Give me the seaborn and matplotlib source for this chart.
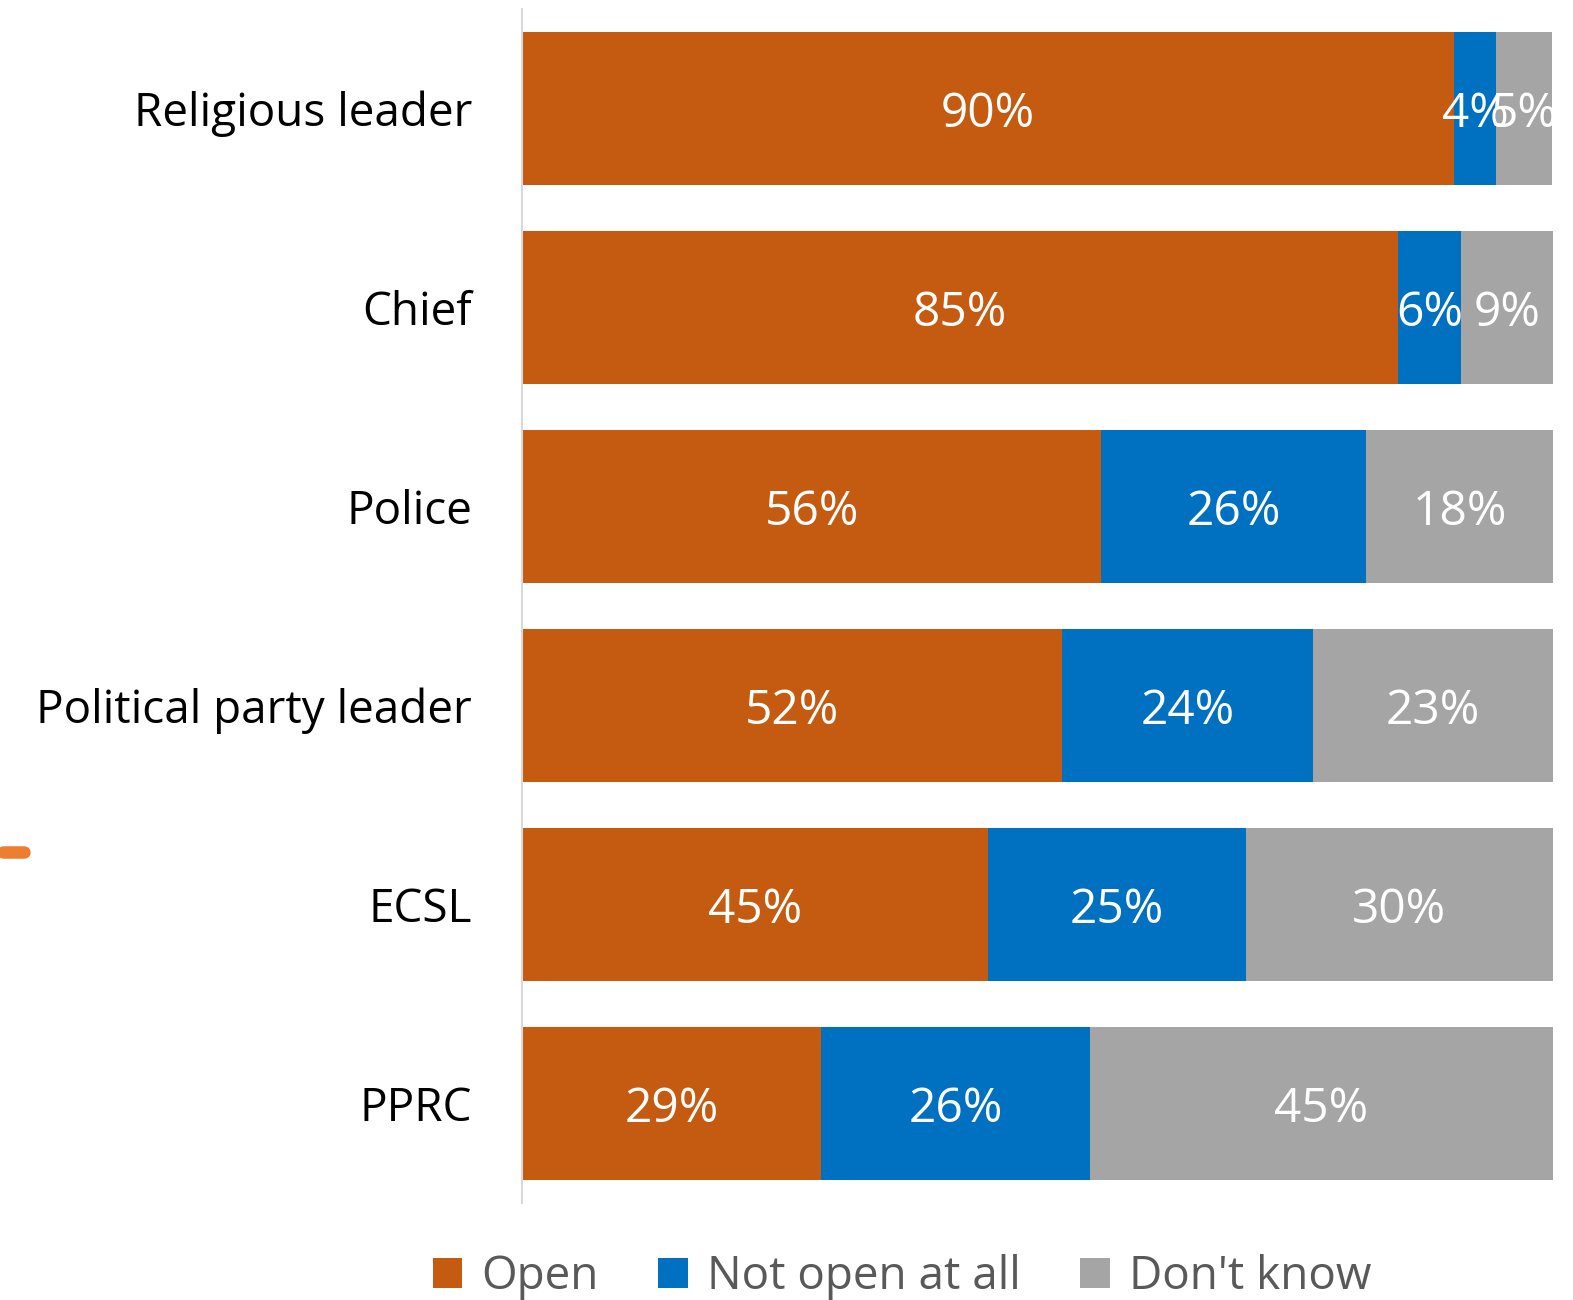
import matplotlib
matplotlib.use("Agg")
import matplotlib.pyplot as plt
import seaborn as sns
import pandas as pd
from matplotlib.patches import Patch
from matplotlib.lines import Line2D

categories = ["Religious leader", "Chief", "Police", "Political party leader", "ECSL", "PPRC"]
open_vals = [90.4, 85.0, 56.2, 52.4, 45.2, 29.0]
not_open_vals = [4.1, 6.1, 25.7, 24.3, 25.0, 26.1]
dont_know_vals = [5.4, 8.9, 18.1, 23.3, 29.8, 44.9]
series_names = ["Open", "Not open at all", "Don't know"]
colors = ["#C55A11", "#0070C0", "#A5A5A5"]

sns.set_theme(style="white")
plt.rcParams["font.family"] = ["Open Sans", "DejaVu Sans"]

df = pd.DataFrame({
    "cat": categories,
    "open": open_vals,
    "notopen": not_open_vals,
    "dk": dont_know_vals,
})
df["c1"] = df["open"]
df["c2"] = df["open"] + df["notopen"]
df["c3"] = df["c2"] + df["dk"]

fig = plt.figure(figsize=(15.73, 13.0), dpi=100)
ax = fig.add_axes([522 / 1573, 1 - 1203 / 1300, (1553 - 522) / 1573, 1194 / 1300])

for col, color in zip(["c3", "c2", "c1"], colors[::-1]):
    sns.barplot(data=df, x=col, y="cat", orient="h", color=color, width=0.77,
                saturation=1, ax=ax, edgecolor="none", linewidth=0)

ax.set_xlim(0, 100)
ax.set_ylim(5.5, -0.5)
ax.set_xlabel("")
ax.set_ylabel("")
ax.set_xticks([])
for s in ["top", "right", "bottom"]:
    ax.spines[s].set_visible(False)
ax.spines["left"].set_color("#D9D9D9")
ax.spines["left"].set_linewidth(1.5)
ax.tick_params(axis="y", length=0, pad=36, labelsize=33, labelcolor="black")

for i in range(len(categories)):
    starts = [0, df["c1"][i], df["c2"][i]]
    vals = [open_vals[i], not_open_vals[i], dont_know_vals[i]]
    for st, v in zip(starts, vals):
        ax.text(st + v / 2, i + 0.03, f"{round(v):d}%", ha="center", va="center",
                color="white", fontsize=34.5)

handles = [Patch(facecolor=c, edgecolor="none") for c in colors]
leg = fig.legend(handles, series_names, loc="center", bbox_to_anchor=(902 / 1573, 1 - 1277 / 1300),
                 ncol=3, frameon=False, fontsize=33, handlelength=0.64, handleheight=0.64,
                 handletextpad=0.42, columnspacing=1.3)
for t in leg.get_texts():
    t.set_color("#595959")

fig.add_artist(Line2D([0.002, 24 / 1573], [1 - 852 / 1300, 1 - 852 / 1300],
                      transform=fig.transFigure, color="#ED7D31", linewidth=9,
                      solid_capstyle="round"))

fig.savefig("out.png", dpi=100, facecolor="white")
